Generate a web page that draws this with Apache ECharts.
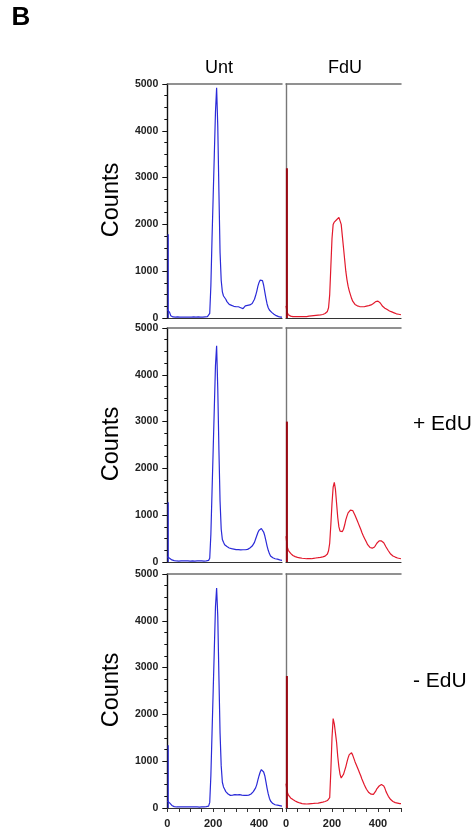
<!DOCTYPE html>
<html>
<head>
<meta charset="utf-8">
<script src="https://cdn.jsdelivr.net/npm/echarts@6/dist/echarts.min.js"></script>
<style>
  html, body { margin: 0; padding: 0; background: #fff; }
  #chart { width: 475px; height: 832px; }
</style>
</head>
<body>
<div id="chart"></div>
<script>
// histogram channels (0..500, every 5)
const channels = []
for (let c = 0; c <= 500; c += 5) channels.push(c)

// counts per channel
const untRow1 = [
  180, 180, 120, 50, 30, 22, 20, 18, 20, 22,
  18, 20, 20, 18, 22, 20, 18, 20, 22, 20,
  18, 20, 20, 22, 20, 18, 20, 22, 20, 20,
  22, 20, 22, 25, 25, 30, 40, 100, 700, 1700,
  2600, 3500, 4400, 4920, 4100, 2700, 1400, 800, 560, 470,
  430, 400, 350, 320, 290, 280, 270, 260, 250, 250,
  240, 250, 240, 230, 220, 230, 200, 240, 260, 270,
  270, 260, 280, 290, 310, 340, 400, 480, 570, 680,
  760, 810, 830, 800, 700, 560, 420, 300, 220, 170,
  140, 120, 100, 80, 60, 50, 40, 30, 25, 20,
  20
]
const fduRow1 = [
  260, 120, 70, 50, 40, 35, 30, 28, 30, 25,
  30, 28, 32, 30, 28, 25, 30, 35, 30, 35,
  40, 42, 45, 48, 50, 52, 55, 55, 60, 62,
  65, 70, 75, 85, 95, 110, 140, 220, 500, 1100,
  1700, 2000, 2050, 2080, 2100, 2080, 2150, 2120, 2000, 1750,
  1500, 1250, 1000, 820, 680, 580, 500, 420, 360, 320,
  290, 270, 260, 250, 245, 240, 240, 235, 240, 250,
  255, 260, 265, 270, 280, 290, 310, 330, 350, 360,
  360, 350, 320, 280, 250, 230, 210, 195, 180, 165,
  150, 140, 130, 120, 110, 100, 90, 85, 80, 75,
  70
]
const untRow2 = [
  110, 110, 80, 60, 45, 35, 30, 25, 22, 22,
  20, 22, 22, 20, 22, 24, 22, 20, 22, 22,
  20, 22, 24, 22, 20, 22, 22, 20, 22, 24,
  22, 22, 20, 22, 25, 28, 35, 80, 600, 1500,
  2400, 3300, 4200, 4620, 3700, 2400, 1300, 700, 480, 420,
  370, 340, 330, 320, 300, 290, 285, 280, 275, 270,
  265, 260, 265, 262, 258, 260, 262, 265, 262, 265,
  270, 280, 300, 320, 340, 360, 420, 490, 560, 630,
  680, 710, 715, 700, 640, 560, 450, 340, 250, 180,
  130, 105, 90, 80, 70, 65, 60, 55, 45, 40,
  35
]
const fduRow2 = [
  550, 330, 250, 210, 185, 160, 140, 125, 115, 108,
  100, 95, 90, 85, 80, 78, 75, 72, 70, 68,
  70, 72, 70, 75, 78, 80, 85, 90, 92, 95,
  100, 105, 110, 115, 125, 140, 170, 240, 400, 800,
  1250, 1600, 1700, 1550, 1250, 950, 750, 660, 630, 650,
  700, 790, 900, 980, 1050, 1090, 1110, 1120, 1100, 1060,
  1000, 940, 880, 820, 760, 700, 630, 570, 520, 470,
  420, 370, 330, 310, 300, 295, 300, 320, 360, 400,
  430, 450, 455, 450, 430, 410, 370, 320, 280, 240,
  200, 170, 150, 130, 115, 105, 95, 85, 80, 75,
  70
]
const untRow3 = [
  150, 150, 110, 80, 55, 45, 30, 25, 22, 24,
  22, 20, 22, 24, 22, 20, 22, 24, 22, 20,
  22, 24, 22, 20, 22, 22, 24, 22, 20, 22,
  24, 22, 22, 25, 28, 30, 40, 120, 700, 1600,
  2500, 3400, 4300, 4700, 4100, 2800, 1600, 900, 550, 450,
  400, 350, 320, 300, 280, 270, 270, 275, 280, 285,
  285, 280, 280, 285, 280, 275, 270, 270, 268, 270,
  272, 275, 280, 300, 320, 350, 380, 430, 500, 600,
  690, 770, 820, 820, 770, 690, 560, 420, 300, 210,
  150, 115, 95, 80, 70, 65, 60, 55, 50, 45,
  40
]
const fduRow3 = [
  520, 350, 280, 240, 215, 200, 180, 165, 150, 135,
  125, 115, 108, 100, 95, 92, 90, 88, 85, 88,
  90, 92, 95, 95, 98, 100, 102, 100, 105, 110,
  115, 120, 125, 130, 138, 145, 160, 180, 220, 800,
  1500, 1910, 1800, 1600, 1400, 1100, 880, 720, 640, 660,
  720, 800, 880, 980, 1070, 1140, 1180, 1180, 1130, 1060,
  990, 930, 870, 810, 750, 690, 620, 560, 500, 450,
  400, 360, 330, 310, 295, 290, 290, 310, 360, 410,
  440, 470, 490, 500, 490, 470, 420, 350, 300, 250,
  210, 180, 160, 140, 125, 115, 110, 105, 100, 95,
  92
]

// debris spike near channel 0
const spikeChannel = 4
const untSpike = [1790, 1275, 1340]
const fduSpike = [3200, 3000, 2820]

const colTitles = ['Unt', 'FdU']
const rowLabels = ['', '+ EdU', '- EdU']
const xLabelTicks = [0, 200, 400]

const rows = [[untRow1, fduRow1], [untRow2, fduRow2], [untRow3, fduRow3]]
const spikes = [untSpike, fduSpike]

const FONT = 'Arial, "Liberation Sans", Helvetica, sans-serif'
const BLUE = '#2a2ad8'
const RED = '#e2192c'
const DARK_RED = '#980812'

const rowTop = [84, 328, 574]
const colLeft = [167.3, 286]
const colWidth = [114.7, 115]
const plotHeight = 234

const grid = []
const xAxis = []
const yAxis = []
const series = []

rows.forEach((row, r) => {
  row.forEach((counts, c) => {
    const i = grid.length
    const isBottom = r === rows.length - 1
    grid.push({
      left: colLeft[c], top: rowTop[r], width: colWidth[c], height: plotHeight,
      containLabel: false,
    })
    // bottom axis
    xAxis.push({
      gridIndex: i, type: 'value', min: 0, max: 500, interval: 50,
      axisLine: { show: true, onZero: false, lineStyle: { color: '#333', width: 1.2 } },
      axisTick: { show: isBottom, length: 4, lineStyle: { color: '#333' } },
      axisLabel: {
        show: isBottom, margin: 10, fontSize: 11, fontWeight: 'bold', color: '#222', fontFamily: FONT,
        formatter: v => (xLabelTicks.indexOf(v) >= 0 ? String(v) : ''),
      },
      splitLine: { show: false },
    })
    // top frame line
    xAxis.push({
      gridIndex: i, type: 'value', position: 'top', min: 0, max: 500,
      axisLine: { show: true, onZero: false, lineStyle: { color: '#6e6e6e', width: 1.5 } },
      axisTick: { show: false },
      axisLabel: { show: false },
      splitLine: { show: false },
    })
    yAxis.push({
      gridIndex: i, type: 'value', min: 0, max: 5000, interval: 1000,
      axisLine: { show: true, onZero: false, lineStyle: { color: c === 0 ? '#111' : '#777', width: 1.4 } },
      axisTick: { show: c === 0, length: 5, lineStyle: { color: '#111' } },
      minorTick: { show: c === 0, splitNumber: 4, length: 3, lineStyle: { color: '#111' } },
      axisLabel: {
        show: c === 0, margin: 9, fontSize: 10.5, fontWeight: 'bold', color: '#222', fontFamily: FONT,
        formatter: v => String(v),
      },
      splitLine: { show: false },
      minorSplitLine: { show: false },
    })
    series.push({
      type: 'line', xAxisIndex: 2 * i, yAxisIndex: i,
      data: channels.map((ch, k) => [ch, counts[k]]),
      showSymbol: false, silent: true,
      lineStyle: { color: c === 0 ? BLUE : RED, width: 1.2 },
      itemStyle: { color: c === 0 ? BLUE : RED },
    })
    series.push({
      type: 'line', xAxisIndex: 2 * i, yAxisIndex: i,
      data: [[spikeChannel, 0], [spikeChannel, spikes[c][r]]],
      showSymbol: false, silent: true,
      lineStyle: { color: c === 0 ? BLUE : DARK_RED, width: c === 0 ? 1.2 : 2 },
      itemStyle: { color: c === 0 ? BLUE : DARK_RED },
    })
  })
})

const text = (str, x, y, size, opts = {}) => Object.assign({
  type: 'text', x: x, y: y, silent: true,
  style: {
    text: str, fill: '#000', font: (opts.bold ? 'bold ' : '') + size + 'px ' + FONT,
    align: opts.align || 'center', verticalAlign: 'middle',
    textAlign: opts.align || 'center', textVerticalAlign: 'middle',
  },
}, opts.rotation ? { rotation: opts.rotation } : {})

const graphic = [
  text('B', 11.5, 18, 26, { bold: true, align: 'left' }),
  text(colTitles[0], 219, 68, 18),
  text(colTitles[1], 345, 68, 18),
]
rowTop.forEach((t, r) => {
  graphic.push(text('Counts', 112, t + plotHeight / 2 - 1, 23.5, { rotation: Math.PI / 2 }))
  if (rowLabels[r]) graphic.push(text(rowLabels[r], 413, r === 1 ? 424 : 681, 21, { align: 'left' }))
})

const chart = echarts.init(document.getElementById('chart'), null, { renderer: 'canvas' })
chart.setOption({
  animation: false,
  backgroundColor: '#fff',
  grid, xAxis, yAxis, series, graphic,
})
</script>
</body>
</html>
